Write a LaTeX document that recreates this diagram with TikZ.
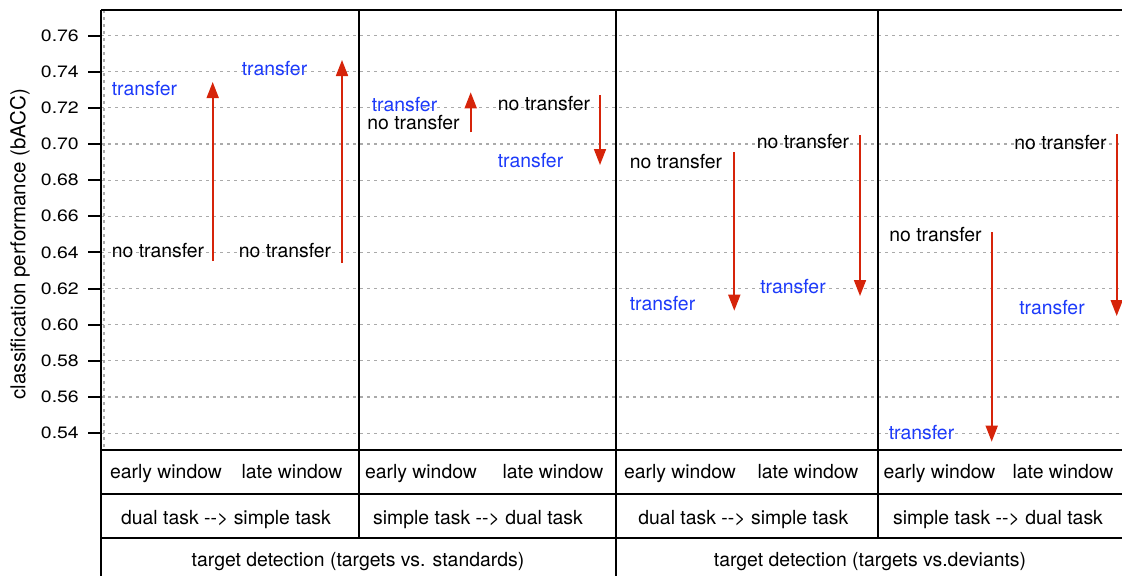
\documentclass[tikz,border=0pt]{standalone}
\usepackage{fontspec}
\setmainfont{TeX Gyre Heros}
\usepackage{tikz}
\usetikzlibrary{arrows.meta}
\usepackage{xcolor}

\definecolor{trblue}{RGB}{28,58,250}
\definecolor{arrred}{RGB}{214,36,10}
\definecolor{gridgray}{RGB}{170,170,170}

\tikzset{
  lbl/.style={font=\fontsize{19.4}{22}\selectfont, inner sep=0pt, anchor=base},
  trlbl/.style={lbl, text=trblue},
  ntrlbl/.style={lbl, text=black},
  ticklbl/.style={font=\fontsize{16.5}{18}\selectfont, inner sep=0pt, anchor=east, xscale=1.18, transform shape},
  arr/.style={draw=arrred, line width=1.7pt, -{Triangle[length=16pt,width=12pt]}},
  gridln/.style={gridgray, line width=1.1pt, dash pattern=on 2.6pt off 4.4pt},
  frame/.style={black, line width=1.8pt},
}

\begin{document}
\begin{tikzpicture}[x=1pt,y=-1pt]

\useasboundingbox (0,0) rectangle (1122,576);

%grid lines
{
\draw[gridln] (101,35.5)--(1122,35.5);
\draw[gridln] (101,71.65)--(1122,71.65);
\draw[gridln] (101,107.8)--(1122,107.8);
\draw[gridln] (101,143.95)--(1122,143.95);
\draw[gridln] (101,180.1)--(1122,180.1);
\draw[gridln] (101,216.25)--(1122,216.25);
\draw[gridln] (101,252.4)--(1122,252.4);
\draw[gridln] (101,288.55)--(1122,288.55);
\draw[gridln] (101,324.7)--(1122,324.7);
\draw[gridln] (101,360.85)--(1122,360.85);
\draw[gridln] (101,397)--(1122,397);
\draw[gridln] (101,433.15)--(1122,433.15);
\draw[gridln] (104,10)--(104,450);
}

%frame
{
\draw[black, line width=2.5pt] (101,10)--(1122,10);
\draw[black, line width=2.5pt] (101,10)--(101,576);
\draw[frame] (359,10)--(359,538);
\draw[frame] (616,10)--(616,576);
\draw[frame] (878,10)--(878,538);
\draw[frame] (101,450)--(1122,450);
\draw[frame] (101,494)--(1122,494);
\draw[frame] (101,538)--(1122,538);
}

% y axis
{
\draw[black, line width=2pt] (88,35.5)--(101,35.5) node[ticklbl] (y76) at (80,35.5) {0.76};
\draw[black, line width=2pt] (88,71.65)--(101,71.65) node[ticklbl] (y74) at (80,71.65) {0.74};
\draw[black, line width=2pt] (88,107.8)--(101,107.8) node[ticklbl] (y72) at (80,107.8) {0.72};
\draw[black, line width=2pt] (88,143.95)--(101,143.95) node[ticklbl] (y70) at (80,143.95) {0.70};
\draw[black, line width=2pt] (88,180.1)--(101,180.1) node[ticklbl] (y68) at (80,180.1) {0.68};
\draw[black, line width=2pt] (88,216.25)--(101,216.25) node[ticklbl] (y66) at (80,216.25) {0.66};
\draw[black, line width=2pt] (88,252.4)--(101,252.4) node[ticklbl] (y64) at (80,252.4) {0.64};
\draw[black, line width=2pt] (88,288.55)--(101,288.55) node[ticklbl] (y62) at (80,288.55) {0.62};
\draw[black, line width=2pt] (88,324.7)--(101,324.7) node[ticklbl] (y60) at (80,324.7) {0.60};
\draw[black, line width=2pt] (88,360.85)--(101,360.85) node[ticklbl] (y58) at (80,360.85) {0.58};
\draw[black, line width=2pt] (88,397)--(101,397) node[ticklbl] (y56) at (80,397) {0.56};
\draw[black, line width=2pt] (88,433.15)--(101,433.15) node[ticklbl] (y54) at (80,433.15) {0.54};

\node[font=\fontsize{20.5}{22}\selectfont, rotate=90, inner sep=0pt] (ylab) at (20,244) {classification performance (bACC)};
}

% labels
{
\node[trlbl] (tr1e) at (144.5,95.5) {transfer};
\node[ntrlbl] (nt1e) at (158,257.5) {no transfer};
\node[trlbl] (tr1l) at (274.5,75.5) {transfer};
\node[ntrlbl] (nt1l) at (285,257.5) {no transfer};

\node[trlbl] (tr2e) at (404.5,111.5) {transfer};
\node[ntrlbl] (nt2e) at (413.5,129.5) {no transfer};
\node[ntrlbl] (nt2l) at (544,110.8) {no transfer};
\node[trlbl] (tr2l) at (530.5,167) {transfer};

\node[ntrlbl] (nt3e) at (676,168) {no transfer};
\node[trlbl] (tr3e) at (662.5,310.5) {transfer};
\node[ntrlbl] (nt3l) at (803,148) {no transfer};
\node[trlbl] (tr3l) at (793,293) {transfer};

\node[ntrlbl] (nt4e) at (935.5,241) {no transfer};
\node[trlbl] (tr4e) at (921.5,439) {transfer};
\node[ntrlbl] (nt4l) at (1060.5,149) {no transfer};
\node[trlbl] (tr4l) at (1052,314) {transfer};
}

%red arrows
{
\coordinate (a1e) at (212.7,261);
\coordinate (b1e) at (212.7,82);
\coordinate (a1l) at (342,263);
\coordinate (b1l) at (342,60);
\coordinate (a2e) at (470.7,132.3);
\coordinate (b2e) at (470.7,92.3);
\coordinate (a2l) at (600,95);
\coordinate (b2l) at (600,165);
\coordinate (a3e) at (734.3,152.3);
\coordinate (b3e) at (734.3,310.7);
\coordinate (a3l) at (860,135);
\coordinate (b3l) at (860,296);
\coordinate (a4e) at (991.7,232.3);
\coordinate (b4e) at (991.7,441.7);
\coordinate (a4l) at (1116.7,134.3);
\coordinate (b4l) at (1116.7,316);

\draw[arr] (a1e)--(b1e);
\draw[arr] (a1l)--(b1l);
\draw[arr] (a2e)--(b2e);
\draw[arr] (a2l)--(b2l);
\draw[arr] (a3e)--(b3e);
\draw[arr] (a3l)--(b3l);
\draw[arr] (a4e)--(b4e);
\draw[arr] (a4l)--(b4l);
}

% table rows
{
\node[lbl] (ew1) at (166,478.5) {early window};
\node[lbl] (lw1) at (292,478.5) {late window};
\node[lbl] (ew2) at (421,478.5) {early window};
\node[lbl] (lw2) at (553,478.5) {late window};
\node[lbl] (ew3) at (680,478.5) {early window};
\node[lbl] (lw3) at (808,478.5) {late window};
\node[lbl] (ew4) at (939.5,478.5) {early window};
\node[lbl] (lw4) at (1063,478.5) {late window};

\node[lbl] (dir1) at (226,524) {dual task -{}-> simple task};
\node[lbl] (dir2) at (478,524) {simple task -{}-> dual task};
\node[lbl] (dir3) at (743.3,524) {dual task -{}-> simple task};
\node[lbl] (dir4) at (998,524) {simple task -{}-> dual task};

\node[lbl] (std) at (358,566) {target detection (targets vs. standards)};
\node[lbl] (dev) at (870,566) {target detection (targets vs.deviants)};
}

\end{tikzpicture}
\end{document}
